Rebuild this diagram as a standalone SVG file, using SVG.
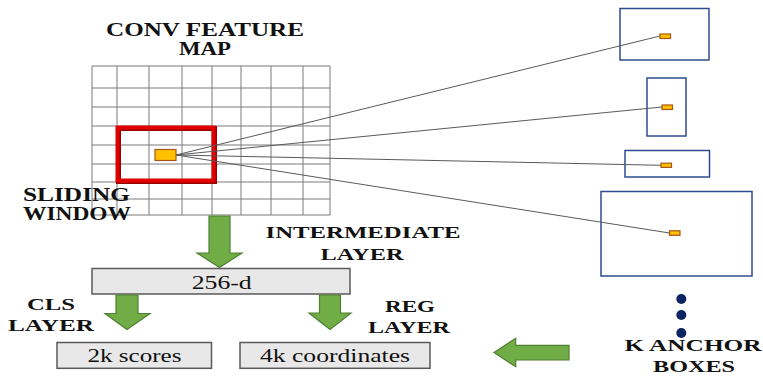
<svg xmlns="http://www.w3.org/2000/svg" width="763" height="383" viewBox="0 0 763 383" font-family="Liberation Serif, Times New Roman, serif">
  <style>
    .title { font-weight: bold; font-size: 16.5px; fill: #111; }
    .big { font-size: 18px; }
    .val { font-size: 19px; fill: #111; }
    .grid line { stroke: #7a7a7a; stroke-width: 1; }
    .box { fill: #e8e8e8; stroke: #5a5a5a; stroke-width: 1.5; }
    .anchor { fill: #ffffff; stroke: #2f4b8f; stroke-width: 1.5; }
    .center { fill: #ffc000; stroke: #a8561a; stroke-width: 1.2; }
    .ray { stroke: #5a5a5a; stroke-width: 1; fill: none; }
    .flow { fill: #70ad47; stroke: #507e32; stroke-width: 1.2; stroke-linejoin: miter; }
    .dot { fill: #0b2462; }
  </style>

  <rect width="763" height="383" fill="#ffffff"/>

  <!-- feature map grid -->
  <g id="feature-map">
    <text class="title big" x="205" y="36" text-anchor="middle" textLength="198" lengthAdjust="spacingAndGlyphs">CONV FEATURE</text>
    <text class="title big" x="205" y="55" text-anchor="middle" textLength="52" lengthAdjust="spacingAndGlyphs">MAP</text>
    <g class="grid">
      <line x1="92" y1="66" x2="92" y2="215"/>
      <line x1="117" y1="66" x2="117" y2="215"/>
      <line x1="149" y1="66" x2="149" y2="215"/>
      <line x1="182" y1="66" x2="182" y2="215"/>
      <line x1="212" y1="66" x2="212" y2="215"/>
      <line x1="241" y1="66" x2="241" y2="215"/>
      <line x1="271" y1="66" x2="271" y2="215"/>
      <line x1="303" y1="66" x2="303" y2="215"/>
      <line x1="330" y1="66" x2="330" y2="215"/>
      <line x1="92" y1="66" x2="330" y2="66"/>
      <line x1="92" y1="88" x2="330" y2="88"/>
      <line x1="92" y1="107" x2="330" y2="107"/>
      <line x1="92" y1="126" x2="330" y2="126"/>
      <line x1="92" y1="145" x2="330" y2="145"/>
      <line x1="92" y1="164" x2="330" y2="164"/>
      <line x1="92" y1="182" x2="330" y2="182"/>
      <line x1="92" y1="199" x2="330" y2="199"/>
      <line x1="92" y1="215" x2="330" y2="215"/>
    </g>
  </g>

  <!-- sliding window -->
  <g id="sliding-window">
    <rect x="118.5" y="128.5" width="96" height="53" fill="none" stroke="#9c0000" stroke-width="5"/>
    <rect x="117.5" y="127.5" width="96" height="53" fill="none" stroke="#e00000" stroke-width="4"/>
    <rect x="155" y="149.5" width="21" height="11" class="center"/>
    <text class="title big" x="23" y="201" textLength="107" lengthAdjust="spacingAndGlyphs">SLIDING</text>
    <text class="title big" x="23" y="220" textLength="108" lengthAdjust="spacingAndGlyphs">WINDOW</text>
  </g>

  <!-- anchor boxes -->
  <g id="anchor-1">
    <rect x="620" y="8.5" width="89" height="51.5" class="anchor"/>
    <rect x="660" y="34" width="10.5" height="4.5" class="center"/>
  </g>
  <g id="anchor-2">
    <rect x="647" y="78" width="39" height="58" class="anchor"/>
    <rect x="662" y="105" width="10.5" height="4.5" class="center"/>
  </g>
  <g id="anchor-3">
    <rect x="625" y="150.5" width="84.5" height="26.5" class="anchor"/>
    <rect x="661" y="163.2" width="10.5" height="4.2" class="center"/>
  </g>
  <g id="anchor-4">
    <rect x="601" y="191.5" width="151" height="84.5" class="anchor"/>
    <rect x="669.5" y="230.8" width="10.5" height="4.5" class="center"/>
  </g>
  <g id="anchor-more">
    <circle class="dot" cx="681.3" cy="299" r="5"/>
    <circle class="dot" cx="681.3" cy="315" r="5"/>
    <circle class="dot" cx="681.3" cy="333" r="5"/>
    <text class="title" x="693" y="351" text-anchor="middle" textLength="137" lengthAdjust="spacingAndGlyphs">K ANCHOR</text>
    <text class="title" x="694" y="372" text-anchor="middle" textLength="82" lengthAdjust="spacingAndGlyphs">BOXES</text>
  </g>

  <!-- intermediate layer -->
  <g id="intermediate">
    <rect x="92" y="268.5" width="258" height="25.5" class="box"/>
    <text class="val" x="221.7" y="288.5" text-anchor="middle" textLength="60" lengthAdjust="spacingAndGlyphs">256-d</text>
    <text class="title" x="363" y="238" text-anchor="middle" textLength="195" lengthAdjust="spacingAndGlyphs">INTERMEDIATE</text>
    <text class="title" x="362" y="260" text-anchor="middle" textLength="83" lengthAdjust="spacingAndGlyphs">LAYER</text>
  </g>

  <!-- classification output -->
  <g id="cls">
    <rect x="57" y="342.5" width="154.5" height="25.8" class="box"/>
    <text class="val" x="134.5" y="361.5" text-anchor="middle" textLength="94" lengthAdjust="spacingAndGlyphs">2k scores</text>
    <text class="title" x="51" y="310" text-anchor="middle" textLength="48" lengthAdjust="spacingAndGlyphs">CLS</text>
    <text class="title" x="51" y="331" text-anchor="middle" textLength="86" lengthAdjust="spacingAndGlyphs">LAYER</text>
  </g>

  <!-- regression output -->
  <g id="reg">
    <rect x="240" y="342.5" width="190" height="25.8" class="box"/>
    <text class="val" x="335" y="361.5" text-anchor="middle" textLength="150" lengthAdjust="spacingAndGlyphs">4k coordinates</text>
    <text class="title" x="410" y="312" text-anchor="middle" textLength="50" lengthAdjust="spacingAndGlyphs">REG</text>
    <text class="title" x="409" y="333" text-anchor="middle" textLength="82" lengthAdjust="spacingAndGlyphs">LAYER</text>
  </g>

  <!-- connectors -->
  <g id="connectors">
    <line class="ray" x1="176" y1="155" x2="660" y2="36"/>
    <line class="ray" x1="176" y1="155" x2="662" y2="107"/>
    <line class="ray" x1="176" y1="155" x2="661" y2="165.3"/>
    <line class="ray" x1="176" y1="155" x2="669.5" y2="233"/>
    <polygon class="flow" points="209,216 230,216 230,253 242,253 219.5,267.5 197,253 209,253"/>
    <polygon class="flow" points="116,295 138,295 138,313.5 150,313.5 127,329.5 105,313.5 116,313.5"/>
    <polygon class="flow" points="319.5,295 340.5,295 340.5,313 351,313 330,329.5 309,313 319.5,313"/>
    <polygon class="flow" points="569,345.3 569,360 515.7,360 515.7,366.7 494,352.5 515.7,338.3 515.7,345.3"/>
  </g>
</svg>
